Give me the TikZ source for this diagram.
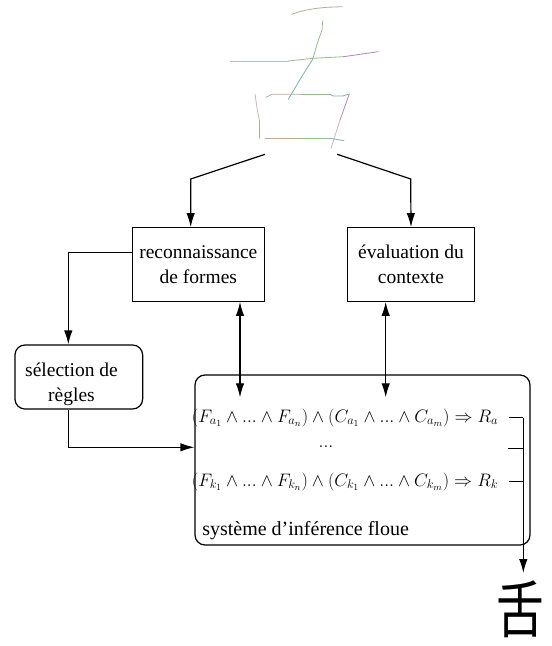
\documentclass[tikz,border=0pt]{standalone}
\usepackage{fontspec}
\setmainfont{Liberation Serif}
\newfontfamily\cjkfont{Noto Sans CJK SC}
\usetikzlibrary{arrows.meta}

\definecolor{inkbrown}{RGB}{196,168,150}
\definecolor{inkgreen}{RGB}{150,188,140}
\definecolor{inkteal}{RGB}{120,180,170}
\definecolor{inkpurple}{RGB}{175,135,190}
\definecolor{inkpink}{RGB}{212,178,196}

\newcommand{\rulesize}[1]{\scalebox{1.045}{#1}}

\begin{document}
\begin{tikzpicture}[x=1pt,y=-1pt,line width=1.2pt,>={Latex[length=14pt,width=8.5pt]},
    ink/.style={line width=0.8pt,line cap=round,line join=round},
    box/.style={draw,align=center,font=\fontsize{19.5}{25}\selectfont},
    rbox/.style={box,rounded corners=10pt},
    rule/.style={inner sep=0pt,font=\fontsize{18.4}{22}\selectfont}]
    \useasboundingbox (0,0) rectangle (552,646);

    % the handwritten character
    \draw[ink,inkbrown] (291.7,14.3) -- (301.7,11) -- (315,8.5);
    \draw[ink,inkgreen] (315,8.5) -- (326.7,7.3) -- (342.3,6.7);
    \draw[ink,inkgreen] (322.7,20.7) -- (322,30) -- (317.3,43.3) -- (312.7,59.3);
    \draw[ink,inkteal] (312.7,59.3) -- (301.7,76.7) -- (288.3,99.3);
    \draw[ink,inkpink] (230,61) -- (288.3,61);
    \draw[ink,inkgreen] (288.3,61) -- (313.3,58.3) -- (343.3,56.7);
    \draw[ink,inkpurple] (343.3,56.7) -- (378.3,51.7);
    \draw[ink,inkpink] (255,94) -- (257.3,110) -- (259.3,120);
    \draw[ink,inkgreen] (259.3,120) -- (259.3,138.3);
    \draw[ink,inkbrown] (266,97.3) -- (271.7,94.3) -- (300,94.3);
    \draw[ink,inkgreen] (300,94.3) -- (330,94.3);
    \draw[ink,inkteal] (330,94.3) -- (333.3,96) -- (342.7,96) -- (349.3,94);
    \draw[ink,inkpurple] (349.3,94) -- (340,120);
    \draw[ink,inkpink] (340,120) -- (331,148.3);
    \draw[ink,inkbrown] (265,138.3) -- (300,138.3);
    \draw[ink,inkgreen] (300,138.3) -- (330,138.3);
    \draw[ink,inkteal] (330,138.3) -- (344,140.7);
    \coordinate (glyphL) at (265,154.3);
    \coordinate (glyphR) at (337.3,154.3);

    % the two analysers
    \node[box,minimum width=132pt,minimum height=73.6pt] (forms) at (198.3,264.5) {reconnaissance\\de formes};
    \node[box,minimum width=126.6pt,minimum height=73.6pt] (context) at (411,264.5) {évaluation du\\contexte};
    \node[rbox,minimum width=127.7pt,minimum height=64pt] (select) at (78.8,377) {};
    \node[align=center,font=\fontsize{19.5}{25}\selectfont] (selecttext) at (71.5,384) {sélection de\\règles};

    % the inference system
    \node[rbox,minimum width=335pt,minimum height=170pt] (fis) at (362.5,460) {};
    \node[rule] (ra) at (345,417.7) {\rulesize{$(F_{a_1}\wedge ... \wedge F_{a_n})\wedge(C_{a_1}\wedge ... \wedge C_{a_m})\Rightarrow R_a$}};
    \node[rule,anchor=base] (dots) at (326,447) {\rulesize{$...$}};
    \node[rule] (rk) at (345,481.7) {\rulesize{$(F_{k_1}\wedge ... \wedge F_{k_n})\wedge(C_{k_1}\wedge ... \wedge C_{k_m})\Rightarrow R_k$}};
    \node[anchor=base west,inner sep=0pt,font=\fontsize{20}{24}\selectfont] (fislabel) at (201.7,535) {système d'inférence floue};

    % the answer
    \node[anchor=north,inner sep=7pt,font=\cjkfont\fontsize{62}{62}\selectfont] (answer) at (520,573) {\scalebox{0.77}[1]{舌}};
    \coordinate (join) at (523.3,417.7);
    \coordinate (dotsend) at (508.3,448.3);

    % connections
    \draw[->] (glyphL) -- ++(-74.3,24.7) -- ([xshift=-7.6pt]forms.north);
    \draw[->] (glyphR) -- ++(73.4,24.7) -- (context.north);
    \draw[->] ([yshift=12.2pt]forms.west) -| ([xshift=-10.5pt]select.north);
    \draw[->] ([xshift=-10.5pt]select.south) |- ([yshift=12.7pt]fis.west);
    \draw[<->] ([xshift=41.7pt]forms.south) -- ++(0,95.4);
    \draw[<->] ([xshift=-25.3pt]context.south) -- ++(0,95.4);
    \draw ([xshift=10pt]ra.east) -- (join);
    \draw (dotsend) -- (dotsend -| join);
    \draw ([xshift=10pt]rk.east) -- (rk.east -| join);
    \draw[->] (join) -- (join |- answer.north);
\end{tikzpicture}
\end{document}
